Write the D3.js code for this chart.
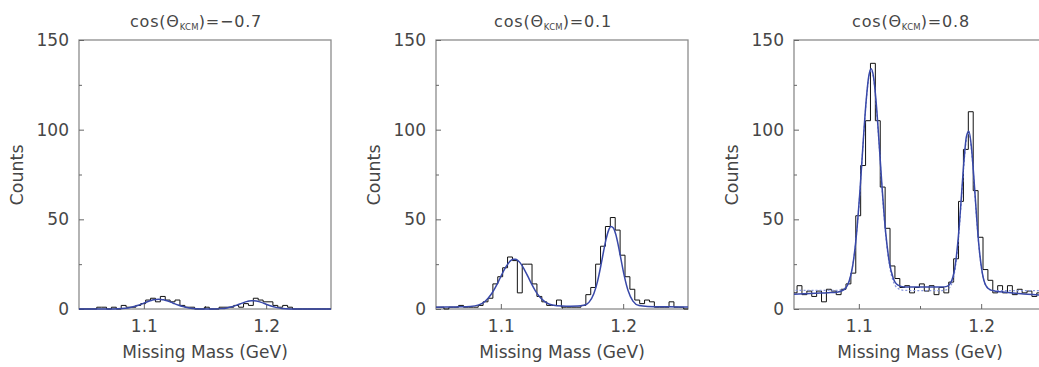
<!DOCTYPE html>
<html>
<head>
<meta charset="utf-8">
<script src="https://cdn.jsdelivr.net/npm/d3@7"></script>
<style>
  body { margin: 0; background: #fff; }
  text { font-family: "DejaVu Sans", sans-serif; fill: #464646; }
</style>
</head>
<body>
<svg id="chart" width="1039" height="367"></svg>
<script>
// histogram binning (GeV)
const binStart = 1.0455;
const binWidth = 0.004;

// counts per bin, one array per angle
const countsA = [0,0,0,0,1,1,0,1,0,2, 1,1,2,3,5,6,4,7,5,4, 5,2,1,1,0,0,1,0,0,1,
                 1,1,2,1,3,2,6,5,4,4, 2,1,2,1,0,0,0,0,0,0, 0,0];
const countsB = [1,1,0,1,1,2,1,1,1,2, 4,6,14,18,23,29,27,9,25,25, 14,7,4,2,2,5,1,1,1,1,
                 2,8,12,25,35,46,51,44,30,18, 11,5,3,5,4,1,1,1,4,1, 1,0];
const countsC = [9,13,8,10,7,10,4,11,10,8, 11,14,20,52,80,105,137,105,68,45, 24,17,12,13,9,12,14,10,13,8,
                 12,9,15,28,60,89,110,66,40,22, 16,9,13,9,13,8,11,9,10,7, 9,8];

// fit curves, sampled at these masses
const fitMass = [1.045,1.055,1.065,1.075,1.082,1.087,1.092,1.095,1.098,1.101,1.104,1.106,1.108,1.110,1.112,1.114,
                 1.116,1.119,1.122,1.125,1.128,1.132,1.137,1.143,1.150,1.157,1.163,1.168,1.172,1.176,1.179,1.182,
                 1.184,1.186,1.188,1.190,1.192,1.194,1.196,1.198,1.201,1.204,1.208,1.213,1.220,1.228,1.238,1.253];
const fitA = [0,0,0,0.05,0.24,0.62,1.35,1.98,2.73,3.55,4.32,4.76,5.11,5.33,5.4,5.33,
              5.11,4.55,3.82,3.0,2.22,1.35,0.62,0.19,0.05,0.04,0.21,0.62,1.24,2.14,2.92,3.68,
              4.11,4.42,4.58,4.58,4.42,4.11,3.68,3.19,2.39,1.66,0.9,0.34,0.06,0,0,0];
const fitB = [1.0,1.1,1.2,1.4,2.3,4.2,8.1,11.4,15.3,19.5,23.3,25.4,27.0,27.8,27.8,27.0,
              25.6,22.3,18.3,14.1,10.4,6.5,3.6,2.1,1.7,1.6,1.65,2.1,3.7,8.5,15.3,25.0,
              32.2,38.8,43.7,46.0,45.2,41.5,35.5,28.5,18.2,10.3,4.4,1.9,1.4,1.3,1.2,1.1];
const fitC = [8.2,8.5,8.8,9.1,9.4,10.4,15.4,24.2,41.1,66.8,97.7,116.2,129.3,134,129.5,116.6,
              98.3,67.8,42.3,25.8,17.4,13.3,12.3,12.2,12.2,12.2,12.2,12.2,12.6,16.0,25.3,45.5,
              64.3,83.1,96.4,99.1,90.5,73.6,54.0,36.5,19.9,12.9,10.5,9.8,9.3,8.8,8.2,7.6];
const altC = [10.4,10.4,10.4,10.4,10.4,11.1,15.7,24.3,41.0,66.6,97.3,115.7,128.7,133.3,128.7,115.7,
              97.3,66.6,41.0,24.3,15.7,11.5,10.4,10.3,10.3,10.3,10.3,10.3,10.8,14.2,23.6,43.8,
              62.7,81.6,95.0,97.9,89.3,72.5,53.0,35.8,19.4,12.7,10.5,10.3,10.3,10.3,10.3,10.3];

const cosValues = ["\u22120.7", "0.1", "0.8"];
const yTicks = [0, 50, 100, 150];
const yMinor = [25, 75, 125];
const xTicks = [1.1, 1.2];
const xMinor = [1.15];

const panels = [
  { left: 79,  counts: countsA, fit: fitA, alt: null },
  { left: 436, counts: countsB, fit: fitB, alt: null },
  { left: 794, counts: countsC, fit: fitC, alt: altC }
];

const plotTop = 40, width = 252, height = 269;
const svg = d3.select("#chart");

const x = d3.scaleLinear().domain([1.047, 1.253]).range([0, width]);
const y = d3.scaleLinear().domain([0, 150]).range([height, 0]);

panels.forEach(function(p, i) {
  const g = svg.append("g").attr("transform", "translate(" + p.left + "," + plotTop + ")");

  g.append("clipPath").attr("id", "clip" + i)
    .append("rect").attr("x", 0).attr("y", -2).attr("width", width).attr("height", height + 4);

  // frame
  g.append("rect")
    .attr("width", width).attr("height", height)
    .attr("fill", "none").attr("stroke", "#8c8c8c").attr("stroke-width", 1.3);

  // axes, ticks pointing inward
  g.append("g").call(d3.axisLeft(y).tickValues(yTicks).tickSize(-5).tickPadding(10));
  g.append("g").call(d3.axisLeft(y).tickValues(yMinor).tickSize(-3).tickFormat(""));
  g.append("g").attr("transform", "translate(0," + height + ")")
    .call(d3.axisBottom(x).tickValues(xTicks).tickSize(-5).tickPadding(10.5).tickFormat(d3.format(".1f")));
  g.append("g").attr("transform", "translate(0," + height + ")")
    .call(d3.axisBottom(x).tickValues(xMinor).tickSize(-3).tickFormat(""));
  g.selectAll(".domain").remove();
  g.selectAll(".tick line").attr("stroke", "#666");
  g.selectAll(".tick text").attr("font-family", "DejaVu Sans").attr("font-size", 17).attr("fill", "#464646");

  // histogram
  const steps = p.counts.map(function(v, k) { return [binStart + k * binWidth, v]; });
  steps.push([binStart + p.counts.length * binWidth, p.counts[p.counts.length - 1]]);
  g.append("path")
    .attr("clip-path", "url(#clip" + i + ")")
    .attr("d", d3.line().x(d => x(d[0])).y(d => y(d[1])).curve(d3.curveStepAfter)(steps))
    .attr("fill", "none").attr("stroke", "#111").attr("stroke-width", 1);

  const fitLine = d3.line().x(d => x(d[0])).y(d => y(d[1])).curve(d3.curveMonotoneX);

  if (p.alt) {
    g.append("path")
      .attr("clip-path", "url(#clip" + i + ")")
      .attr("d", fitLine(fitMass.map((m, k) => [m, p.alt[k]])))
      .attr("fill", "none").attr("stroke", "#8896dc").attr("stroke-width", 1.2)
      .attr("stroke-dasharray", "2,2");
  }
  g.append("path")
    .attr("clip-path", "url(#clip" + i + ")")
    .attr("d", fitLine(fitMass.map((m, k) => [m, p.fit[k]])))
    .attr("fill", "none").attr("stroke", "#3848a8").attr("stroke-width", 1.5);

  // title
  const t = svg.append("text")
    .attr("x", p.left + width / 2 - 9).attr("y", 27)
    .attr("text-anchor", "middle").attr("font-size", 16).attr("letter-spacing", 0.8);
  t.append("tspan").text("cos(\u0398");
  t.append("tspan").attr("font-size", 8.5).attr("dy", 3).attr("letter-spacing", 0.2).text("KCM");
  t.append("tspan").attr("dy", -3).text(")=" + cosValues[i]);

  // axis labels
  svg.append("text")
    .attr("x", p.left + width / 2).attr("y", 358)
    .attr("text-anchor", "middle").attr("font-size", 17)
    .text("Missing Mass (GeV)");
  svg.append("text")
    .attr("transform", "translate(" + (p.left - 56) + "," + (plotTop + 135) + ") rotate(-90)")
    .attr("text-anchor", "middle").attr("font-size", 17.5)
    .text("Counts");
});
</script>
</body>
</html>
